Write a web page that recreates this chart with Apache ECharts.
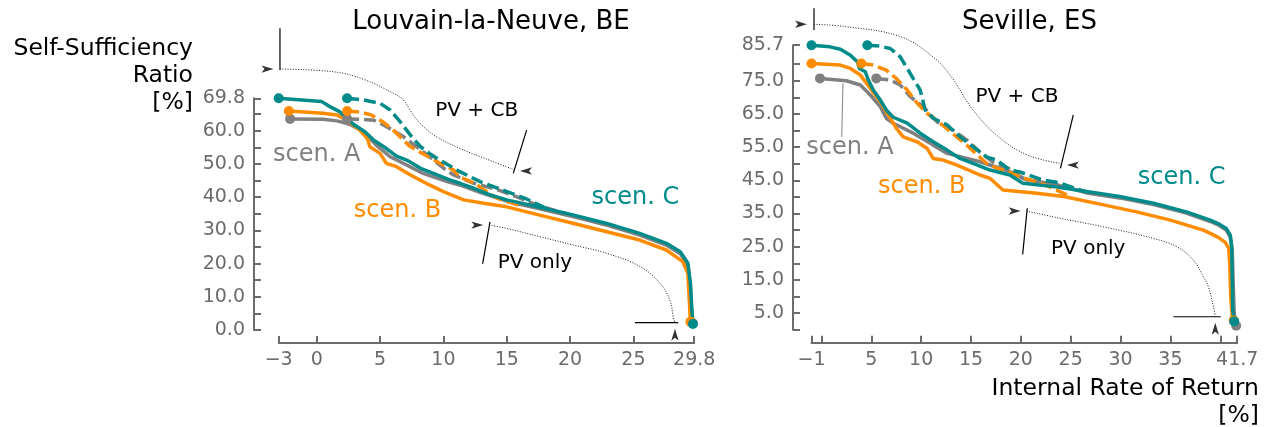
<!DOCTYPE html>
<html>
<head>
<meta charset="utf-8">
<title>Self-Sufficiency Ratio vs Internal Rate of Return</title>
<script src="https://cdn.jsdelivr.net/npm/echarts@6/dist/echarts.min.js"></script>
<style>
  html, body { margin: 0; padding: 0; background: #fff; }
  #chart { width: 1271px; height: 427px; }
</style>
</head>
<body>
<div id="chart"></div>
<script>
// ---- data: [internal rate of return %, self-sufficiency ratio %] ----
// Louvain-la-Neuve, PV only (solid)
const louvainA_pv = [[-2.1,63.6],[0.5,63.5],[1.6,63.0],[2.6,62.0],[3.7,59.7],[4.7,55.7],[5.8,52.2],[7.1,49.7],[8.4,47.2],[10.3,44.7],[11.5,43.4],[13.0,41.3],[15.0,38.8],[17.6,36.5],[20.3,34.1],[22.9,31.6],[25.5,28.6],[27.6,25.6],[28.7,23.0],[29.3,19.5],[29.5,13.0],[29.6,6.0],[29.7,2.0]];
const louvainB_pv = [[-2.2,66.0],[0.5,65.3],[1.6,64.8],[2.6,62.7],[3.4,60.2],[4.0,57.7],[4.2,55.2],[5.0,53.2],[5.5,50.2],[6.3,49.2],[7.4,46.7],[8.9,43.7],[10.0,41.7],[11.6,39.2],[13.2,38.2],[15.0,37.1],[17.6,34.6],[20.3,32.1],[22.9,29.6],[25.5,27.1],[27.6,24.1],[28.9,20.6],[29.3,17.1],[29.4,10.0],[29.5,2.5]];
const louvainC_pv = [[-3.0,69.8],[0.4,68.8],[0.9,67.6],[1.8,65.8],[2.4,63.8],[2.9,62.0],[3.8,59.7],[4.5,57.2],[5.3,55.2],[6.3,52.4],[7.1,51.2],[8.2,48.7],[9.5,46.7],[10.5,45.2],[11.3,44.2],[12.4,42.7],[13.7,40.7],[15.0,39.2],[17.6,37.0],[20.3,34.6],[22.9,32.1],[25.5,29.1],[27.6,26.1],[28.7,23.6],[29.3,20.1],[29.5,14.1],[29.6,7.0],[29.7,1.8]];
// Louvain-la-Neuve, PV + CB (dashed)
const louvainA_cb = [[2.4,63.6],[3.5,63.5],[4.5,63.2],[5.3,61.7],[6.0,60.2],[6.8,58.4],[7.5,56.3],[8.3,54.0],[8.9,52.2],[10.0,48.8],[10.8,46.7],[12.4,44.2],[14.2,42.4],[15.8,40.1],[17.4,37.6],[19.0,35.8],[20.5,34.2],[21.6,33.0],[23.0,31.5],[25.0,29.6]];
const louvainB_cb = [[2.4,66.0],[3.5,65.6],[4.3,64.8],[5.3,62.5],[6.1,60.0],[6.7,57.8],[7.3,55.5],[8.2,53.5],[9.0,51.8],[9.7,50.3],[10.8,48.2],[11.3,46.1],[12.4,44.3],[13.3,42.0],[14.2,39.8],[15.3,38.4],[16.3,37.1]];
const louvainC_cb = [[2.4,69.8],[3.7,69.3],[5.0,68.3],[5.8,66.3],[6.6,62.7],[7.4,58.7],[8.2,55.2],[8.9,53.2],[9.7,51.2],[11.3,47.7],[12.9,44.7],[15.0,41.7],[16.6,39.4],[18.4,36.1]];
// Seville, PV only (solid)
const sevilleA_pv = [[-0.15,75.7],[2.5,75.0],[3.9,73.7],[4.9,70.7],[5.9,67.2],[6.5,63.7],[7.2,62.2],[9.2,59.2],[11.2,55.6],[12.6,53.1],[14.6,51.6],[15.9,50.6],[17.5,49.0],[18.9,47.6],[20.5,45.2],[23.3,43.9],[26.6,41.2],[29.9,39.7],[33.3,37.7],[36.6,35.1],[39.0,32.6],[39.9,31.4],[40.6,30.0],[41.0,28.0],[41.2,24.0],[41.3,14.0],[41.4,5.0],[41.6,1.2]];
const sevilleB_pv = [[-1.0,80.2],[1.9,79.7],[2.9,78.7],[3.9,76.7],[4.9,72.7],[5.9,68.7],[6.9,63.7],[7.5,60.7],[8.2,58.1],[9.6,56.6],[10.6,54.6],[11.2,51.6],[12.2,51.1],[13.6,49.6],[15.9,46.6],[16.9,45.6],[18.2,42.1],[21.6,41.1],[24.3,40.1],[28.3,37.6],[31.6,35.5],[35.0,33.0],[38.3,30.0],[39.0,29.0],[39.8,27.8],[40.5,26.3],[40.85,24.5],[40.95,20.0],[41.05,10.0],[41.2,4.0],[41.35,2.8]];
const sevilleC_pv = [[-1.0,85.7],[0.85,85.2],[1.9,84.5],[2.9,82.7],[3.6,80.7],[3.8,78.7],[4.4,77.7],[4.7,75.2],[5.2,72.2],[5.9,69.2],[6.5,66.2],[7.2,64.0],[8.6,62.2],[9.9,59.2],[11.2,56.6],[12.6,54.1],[13.9,51.6],[15.2,50.1],[16.9,48.1],[18.9,46.6],[20.2,44.1],[23.3,43.1],[26.6,41.6],[29.9,40.1],[33.3,38.1],[36.6,35.5],[39.0,33.0],[39.9,31.8],[40.6,30.5],[41.0,28.5],[41.15,25.0],[41.2,15.0],[41.25,6.0],[41.4,2.5]];
// Seville, PV + CB (dashed)
const sevilleA_cb = [[5.5,75.7],[6.9,75.2],[7.9,73.7],[8.9,70.2],[10.2,67.2],[11.6,62.6],[13.2,60.1],[14.6,57.1],[15.9,53.5],[17.2,50.5],[18.8,48.5],[20.2,45.6],[22.2,44.3],[24.5,42.5]];
const sevilleB_cb = [[4.0,80.2],[5.2,79.7],[6.5,78.2],[7.5,75.7],[8.6,72.2],[9.6,68.2],[10.6,65.2],[11.9,62.2],[13.2,59.0],[14.6,55.5],[15.5,53.0],[16.6,50.0],[17.6,48.7],[19.2,47.1],[19.9,46.0],[21.6,44.5],[22.9,43.0],[24.6,40.6]];
const sevilleC_cb = [[4.6,85.7],[5.9,85.4],[6.9,84.7],[7.9,82.2],[8.9,77.2],[9.9,72.2],[10.4,66.2],[11.2,63.7],[12.6,61.7],[13.9,58.1],[15.2,55.1],[16.6,52.0],[17.6,51.1],[18.9,48.1],[19.9,47.5],[22.2,45.1],[23.9,44.2],[26.6,41.4]];

// ---- ticks ----
const louvainXTicks = [-3, 0, 5, 10, 15, 20, 25, 29.8];
const louvainYTicks = [0, 5, 10, 15, 20, 25, 30, 35, 40, 45, 50, 55, 60, 65, 69.8];
const louvainYLabels = [0, 10, 20, 30, 40, 50, 60, 69.8];
const sevilleXTicks = [-1, 0, 5, 10, 15, 20, 25, 30, 35, 40, 41.7];
const sevilleXLabels = [-1, 5, 10, 15, 20, 25, 30, 35, 41.7];
const sevilleYTicks = [0, 5, 10, 15, 20, 25, 30, 35, 40, 45, 50, 55, 60, 65, 70, 75, 80, 85.7];
const sevilleYLabels = [5, 15, 25, 35, 45, 55, 65, 75, 85.7];

// ---- annotations (data units) ----
const louvainCbPath = [[-2.9,78.6],[1.31,77.8],[3.65,75.6],[6.05,71.3],[6.84,69.3],[7.36,66.3],[8.15,62.3],[9.47,58.2],[11.31,54.7],[13.94,50.7],[15.52,48.4]];
const louvainCbBars = [[[-2.9,90.9],[-2.9,78.3]], [[16.57,60.2],[15.52,47.2]]];
const louvainCbHeads = [[-3.41,78.6,-90], [16.05,47.9,90]];
const louvainPvPath = [[13.62,31.6],[15.0,30.6],[17.62,28.1],[20.25,25.6],[22.89,23.1],[25.52,19.1],[27.1,14.1],[27.88,9.0],[28.15,4.0],[28.28,2.2]];
const louvainPvBars = [[[13.68,32.6],[13.1,19.9]], [[25.12,2.2],[28.54,2.2]]];
const louvainPvHeads = [[13.15,31.6,-90], [28.28,0.39,0]];
const sevilleCbPath = [[-0.75,92.0],[2.43,91.3],[7.9,88.3],[11.18,82.2],[13.02,76.2],[15.2,66.2],[17.76,58.1],[20.68,52.6],[23.97,50.1]];
const sevilleCbBars = [[[-0.75,96.8],[-0.75,90.3]], [[25.26,64.7],[23.97,48.6]]];
const sevilleCbHeads = [[-1.45,92.0,-90], [24.62,49.6,90]];
const sevillePvPath = [[20.58,35.75],[23.25,34.0],[28.27,31.0],[33.28,27.5],[35.63,25.0],[37.29,21.0],[38.3,16.0],[38.8,13.0],[39.32,6.9],[39.5,3.9]];
const sevillePvBars = [[[20.64,36.6],[20.18,22.7]], [[35.3,3.9],[40.05,3.9]]];
const sevillePvHeads = [[19.98,35.75,-90], [39.5,2.11,0]];
const sevilleScenALeader = [[2.16,74.2],[2.03,58.1]];

const louvainNotes = [[0.0,52.7,'scen. A','A'],[6.38,35.8,'scen. B','B'],[25.16,39.9,'scen. C','C'],[12.63,66.0,'PV + CB','k'],[17.23,20.3,'PV only','k']];
const sevilleNotes = [[2.86,54.9,'scen. A','A'],[10.05,43.1,'scen. B','B'],[36.12,45.8,'scen. C','C'],[19.61,70.2,'PV + CB','k'],[26.76,24.3,'PV only','k']];

// ---- styling ----
const FONT = 'DejaVu Sans';
const AXIS = '#6b6b6b';
const COLORS = { A: '#808080', B: '#ff8c00', C: '#008b8b', k: '#000000' };
const LW = 3.5;

function fmtX(v) {
  const s = String(Math.round(Math.abs(v) * 10) / 10);
  return v < 0 ? '\u2212' + s : s;
}
function fmtY(v) { return v.toFixed(1); }

function xAxis(grid, min, max, ticks, labels) {
  return {
    type: 'value', gridIndex: grid, min: min, max: max, offset: 13,
    axisLine: { onZero: false, lineStyle: { color: AXIS, width: 2 } },
    axisTick: { inside: true, length: 7, customValues: ticks, lineStyle: { color: AXIS, width: 2 } },
    axisLabel: { customValues: labels, formatter: fmtX, color: AXIS, fontSize: 19, fontFamily: FONT, margin: 8 },
    splitLine: { show: false }
  };
}
function yAxis(grid, min, max, offset, ticks, labels) {
  return {
    type: 'value', gridIndex: grid, min: min, max: max, offset: offset,
    axisLine: { onZero: false, lineStyle: { color: AXIS, width: 2 } },
    axisTick: { inside: true, length: 7, customValues: ticks, lineStyle: { color: AXIS, width: 2 } },
    axisLabel: { customValues: labels, formatter: fmtY, color: AXIS, fontSize: 19, fontFamily: FONT, margin: 9 },
    splitLine: { show: false }
  };
}

function curve(grid, data, color, dashed) {
  return {
    type: 'line', xAxisIndex: grid, yAxisIndex: grid, data: data,
    symbol: 'none', showSymbol: false, clip: false, silent: true, z: 3,
    lineStyle: { color: color, width: LW, type: dashed ? [12, 5] : 'solid' }
  };
}
function dots(grid, pts, color) {
  return {
    type: 'scatter', xAxisIndex: grid, yAxisIndex: grid, data: pts,
    symbol: 'circle', symbolSize: 10, itemStyle: { color: color, opacity: 1 },
    clip: false, silent: true, z: 3
  };
}
function scenario(grid, pv, cb, color) {
  return [
    curve(grid, pv, color, false),
    dots(grid, [pv[0], pv[pv.length - 1]], color),
    curve(grid, cb, color, true),
    dots(grid, [cb[0]], color)
  ];
}
function dotted(grid, data) {
  return {
    type: 'line', xAxisIndex: grid, yAxisIndex: grid, data: data, smooth: 0.4,
    symbol: 'none', showSymbol: false, clip: false, silent: true, z: 2,
    lineStyle: { color: '#000', width: 0.9, type: [1, 1.6] }
  };
}
function segment(grid, data, color, width) {
  return {
    type: 'line', xAxisIndex: grid, yAxisIndex: grid, data: data,
    symbol: 'none', showSymbol: false, clip: false, silent: true, z: 2,
    lineStyle: { color: color, width: width }
  };
}
function heads(grid, list) {
  return {
    type: 'scatter', xAxisIndex: grid, yAxisIndex: grid, clip: false, silent: true, z: 4,
    symbol: 'arrow', symbolSize: [5.5, 12], itemStyle: { color: '#000' },
    data: list.map(h => ({ value: [h[0], h[1]], symbolRotate: h[2] }))
  };
}
function annotation(grid, path, bars, hd) {
  return [dotted(grid, path)]
    .concat(bars.map(b => segment(grid, b, '#000', 1.2)))
    .concat([heads(grid, hd)]);
}

const series = [].concat(
  scenario(0, louvainA_pv, louvainA_cb, COLORS.A),
  scenario(0, louvainB_pv, louvainB_cb, COLORS.B),
  scenario(0, louvainC_pv, louvainC_cb, COLORS.C),
  annotation(0, louvainCbPath, louvainCbBars, louvainCbHeads),
  annotation(0, louvainPvPath, louvainPvBars, louvainPvHeads),
  scenario(1, sevilleA_pv, sevilleA_cb, COLORS.A),
  scenario(1, sevilleB_pv, sevilleB_cb, COLORS.B),
  scenario(1, sevilleC_pv, sevilleC_cb, COLORS.C),
  annotation(1, sevilleCbPath, sevilleCbBars, sevilleCbHeads),
  annotation(1, sevillePvPath, sevillePvBars, sevillePvHeads),
  [segment(1, sevilleScenALeader, COLORS.A, 1)]
);

const axisNames = [
  { type: 'text', x: 193, y: 35, silent: true,
    style: { text: 'Self-Sufficiency\nRatio\n[%]', align: 'right', verticalAlign: 'top',
             fontFamily: FONT, fontSize: 23.5, lineHeight: 27, fill: '#000' } },
  { type: 'text', x: 1259, y: 375, silent: true,
    style: { text: 'Internal Rate of Return\n[%]', align: 'right', verticalAlign: 'top',
             fontFamily: FONT, fontSize: 23.5, lineHeight: 27, fill: '#000' } }
];

const chart = echarts.init(document.getElementById('chart'), null, { renderer: 'canvas' });
chart.setOption({
  animation: false,
  backgroundColor: '#ffffff',
  title: [
    { text: 'Louvain-la-Neuve, BE', left: 486, top: 4, textAlign: 'center',
      textStyle: { fontFamily: FONT, fontSize: 26, fontWeight: 'normal', color: '#000' } },
    { text: 'Seville, ES', left: 1024.5, top: 4, textAlign: 'center',
      textStyle: { fontFamily: FONT, fontSize: 26, fontWeight: 'normal', color: '#000' } }
  ],
  grid: [
    { left: 278.7, top: 98.3, width: 415.5, height: 231.7, outerBoundsMode: 'none' },
    { left: 811.5, top: 45.2, width: 425.7, height: 284.5, outerBoundsMode: 'none' }
  ],
  xAxis: [
    xAxis(0, -3, 29.8, louvainXTicks, louvainXTicks),
    xAxis(1, -1, 41.7, sevilleXTicks, sevilleXLabels)
  ],
  yAxis: [
    yAxis(0, 0, 69.8, 24.7, louvainYTicks, louvainYLabels),
    yAxis(1, 0, 85.7, 18.5, sevilleYTicks, sevilleYLabels)
  ],
  series: series
});

// text annotations placed through the grids' own coordinate conversion
function noteTexts(grid, list) {
  return list.map(n => {
    const p = chart.convertToPixel({ gridIndex: grid }, [n[0], n[1]]);
    return {
      type: 'text', x: p[0], y: p[1], silent: true, z: 10,
      style: { text: n[2], align: 'center', verticalAlign: 'middle', fontFamily: FONT,
               fontSize: n[3] === 'k' ? 20 : 24, fill: COLORS[n[3]] }
    };
  });
}
chart.setOption({
  graphic: axisNames.concat(noteTexts(0, louvainNotes), noteTexts(1, sevilleNotes))
});
</script>
</body>
</html>
